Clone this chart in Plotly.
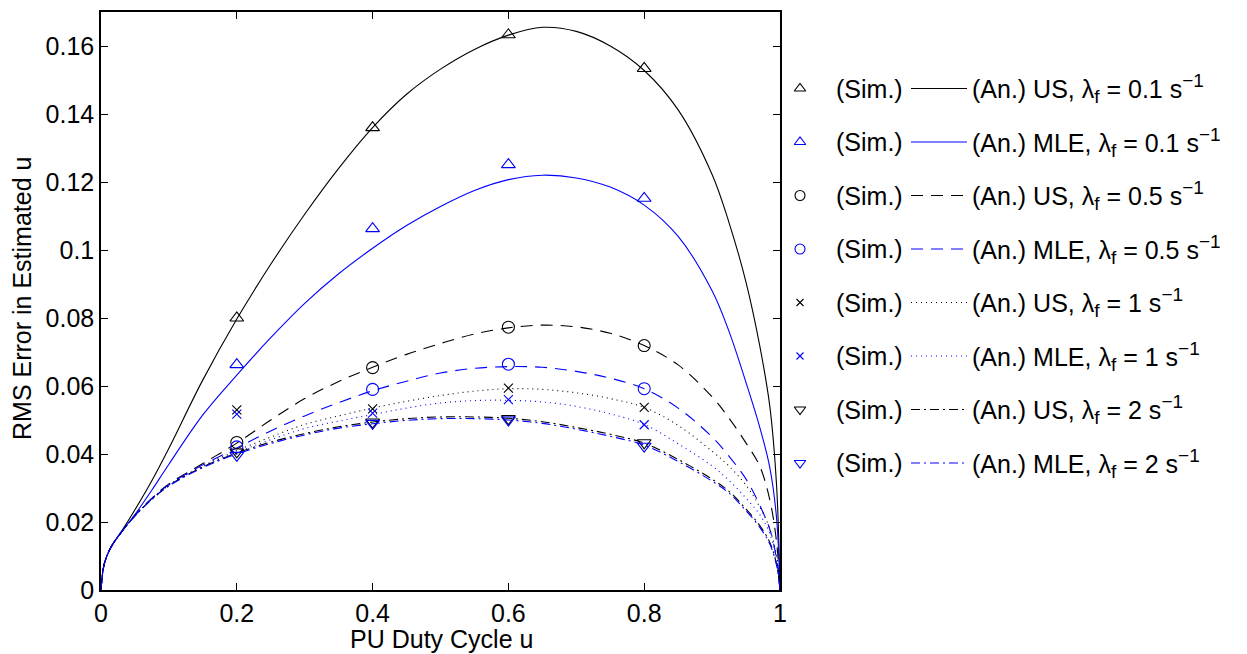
import plotly.graph_objects as go

# ---------------- data ----------------
u_an = [0, 0.005, 0.015, 0.03, 0.05, 0.075, 0.1, 0.15, 0.2, 0.25, 0.3, 0.35, 0.4, 0.45, 0.5,
        0.55, 0.6, 0.65, 0.7, 0.75, 0.8, 0.85, 0.9, 0.925, 0.95, 0.97, 0.985, 0.995, 1.0]

an_us_01 = [0, 0.0078, 0.0127, 0.0172, 0.0236, 0.0322, 0.0417, 0.0618, 0.0797, 0.0958, 0.1105,
            0.1240, 0.1360, 0.1458, 0.1532, 0.1590, 0.1632, 0.1655, 0.1643, 0.1600, 0.1528,
            0.1412, 0.1222, 0.1080, 0.0905, 0.0720, 0.0540, 0.0305, 0]
an_mle_01 = [0, 0.0078, 0.0127, 0.0170, 0.0222, 0.0294, 0.0370, 0.0515, 0.0632, 0.0742, 0.0843,
             0.0930, 0.1005, 0.1072, 0.1128, 0.1175, 0.1207, 0.1220, 0.1212, 0.1185, 0.1132,
             0.1040, 0.0880, 0.0760, 0.0610, 0.0480, 0.0360, 0.0210, 0]
an_us_05 = [0, 0.0078, 0.0127, 0.0170, 0.0220, 0.0270, 0.0312, 0.0372, 0.0432, 0.0500, 0.0563,
            0.0613, 0.0655, 0.0693, 0.0725, 0.0753, 0.0771, 0.0779, 0.0774, 0.0755, 0.0719,
            0.0662, 0.0568, 0.0505, 0.0432, 0.0365, 0.0265, 0.0140, 0]
an_mle_05 = [0, 0.0078, 0.0127, 0.0170, 0.0219, 0.0269, 0.0310, 0.0368, 0.0418, 0.0468, 0.0512,
             0.0551, 0.0586, 0.0614, 0.0638, 0.0652, 0.0657, 0.0655, 0.0643, 0.0623, 0.0592,
             0.0535, 0.0450, 0.0393, 0.0326, 0.0250, 0.0178, 0.0090, 0]
an_us_1 = [0, 0.0078, 0.0127, 0.0170, 0.0218, 0.0268, 0.0309, 0.0365, 0.0410, 0.0450, 0.0487,
           0.0512, 0.0535, 0.0555, 0.0572, 0.0585, 0.0592, 0.0590, 0.0580, 0.0563, 0.0537,
           0.0484, 0.0408, 0.0364, 0.0308, 0.0245, 0.0180, 0.0100, 0]
an_mle_1 = [0, 0.0078, 0.0127, 0.0170, 0.0218, 0.0268, 0.0308, 0.0363, 0.0405, 0.0442, 0.0475,
            0.0497, 0.0516, 0.0535, 0.0550, 0.0557, 0.0558, 0.0553, 0.0540, 0.0518, 0.0487,
            0.0430, 0.0365, 0.0322, 0.0270, 0.0222, 0.0166, 0.0090, 0]
an_us_2 = [0, 0.0078, 0.0127, 0.0170, 0.0218, 0.0267, 0.0307, 0.0362, 0.0403, 0.0435, 0.0460,
           0.0480, 0.0494, 0.0504, 0.0509, 0.0509, 0.0505, 0.0495, 0.0478, 0.0458, 0.0432,
           0.0384, 0.0326, 0.0290, 0.0238, 0.0190, 0.0140, 0.0075, 0]
an_mle_2 = [0, 0.0078, 0.0127, 0.0170, 0.0218, 0.0267, 0.0306, 0.0360, 0.0400, 0.0431, 0.0456,
            0.0476, 0.0489, 0.0499, 0.0504, 0.0504, 0.0500, 0.0490, 0.0473, 0.0452, 0.0426,
            0.0378, 0.0320, 0.0285, 0.0233, 0.0185, 0.0135, 0.0072, 0]

u_sim = [0.2, 0.4, 0.6, 0.8]
sim_us_01 = [0.0800, 0.1360, 0.1633, 0.1534]
sim_mle_01 = [0.0663, 0.1063, 0.1251, 0.1152]
sim_us_05 = [0.0434, 0.0654, 0.0773, 0.0719]
sim_mle_05 = [0.0421, 0.0590, 0.0664, 0.0592]
sim_us_1 = [0.0530, 0.0533, 0.0594, 0.0537]
sim_mle_1 = [0.0517, 0.0520, 0.0560, 0.0486]
sim_us_2 = [0.0406, 0.0494, 0.0504, 0.0433]
sim_mle_2 = [0.0396, 0.0490, 0.0500, 0.0423]

x_ticks = [0, 0.2, 0.4, 0.6, 0.8, 1]
x_ticktext = ["0", "0.2", "0.4", "0.6", "0.8", "1"]
y_ticks = [0, 0.02, 0.04, 0.06, 0.08, 0.1, 0.12, 0.14, 0.16]
y_ticktext = ["0", "0.02", "0.04", "0.06", "0.08", "0.1", "0.12", "0.14", "0.16"]

x_title = "PU Duty Cycle u"
y_title = "RMS Error in Estimated u"
sim_label = "(Sim.)"
SUB = '<sub><span style="font-size:19px">f</span></sub>'
SUP = '<sup><span style="font-size:19px">−1</span></sup>'
legend_labels = ["(An.) US, λ" + SUB + " = 0.1 s" + SUP,
                 "(An.) MLE, λ" + SUB + " = 0.1 s" + SUP,
                 "(An.) US, λ" + SUB + " = 0.5 s" + SUP,
                 "(An.) MLE, λ" + SUB + " = 0.5 s" + SUP,
                 "(An.) US, λ" + SUB + " = 1 s" + SUP,
                 "(An.) MLE, λ" + SUB + " = 1 s" + SUP,
                 "(An.) US, λ" + SUB + " = 2 s" + SUP,
                 "(An.) MLE, λ" + SUB + " = 2 s" + SUP]

# ---------------- styles ----------------
BLACK = "#000000"
BLUE = "#0000FF"
FONT = "Liberation Sans, Arial, Helvetica, sans-serif"
FS = 25

series = [
    (an_us_01, sim_us_01, BLACK, "solid", "triangle-up-open", 12),
    (an_mle_01, sim_mle_01, BLUE, "solid", "triangle-up-open", 12),
    (an_us_05, sim_us_05, BLACK, "12px,8px", "circle-open", 12),
    (an_mle_05, sim_mle_05, BLUE, "12px,8px", "circle-open", 12),
    (an_us_1, sim_us_1, BLACK, "1px,4px", "x-thin-open", 9),
    (an_mle_1, sim_mle_1, BLUE, "1px,4px", "x-thin-open", 9),
    (an_us_2, sim_us_2, BLACK, "9px,4px,2px,4px", "triangle-down-open", 12),
    (an_mle_2, sim_mle_2, BLUE, "9px,4px,2px,4px", "triangle-down-open", 12),
]

fig = go.Figure()

for an, sim, col, dash, sym, msz in series:
    fig.add_trace(go.Scatter(x=u_an, y=an, mode="lines",
                             line=dict(color=col, width=1.1, dash=dash, shape="spline", smoothing=1.0),
                             showlegend=False, hoverinfo="skip"))
    fig.add_trace(go.Scatter(x=u_sim, y=sim, mode="markers",
                             marker=dict(symbol=sym, size=msz, color=col,
                                         line=dict(color=col, width=1.1)),
                             showlegend=False))

# ---------------- custom legend (pixel-like coordinates on a hidden axis pair) ----------------
row_y0 = 88.5
row_dy = 53.5
for i, (an, sim, col, dash, sym, msz) in enumerate(series):
    ry = row_y0 + i * row_dy
    fig.add_trace(go.Scatter(x=[800], y=[ry], mode="markers", xaxis="x2", yaxis="y2",
                             marker=dict(symbol=sym, size=msz - 2, color=col,
                                         line=dict(color=col, width=1.1)),
                             showlegend=False, hoverinfo="skip"))
    fig.add_trace(go.Scatter(x=[911, 967], y=[ry, ry], mode="lines", xaxis="x2", yaxis="y2",
                             line=dict(color=col, width=1.1, dash=dash),
                             showlegend=False, hoverinfo="skip"))
    fig.add_annotation(x=834, y=ry, xref="x2", yref="y2", text=sim_label, showarrow=False,
                       xanchor="left", yanchor="middle", font=dict(family=FONT, size=FS, color="black"))
    fig.add_annotation(x=970, y=ry, xref="x2", yref="y2", text=legend_labels[i], showarrow=False,
                       xanchor="left", yanchor="middle", font=dict(family=FONT, size=FS, color="black"))

W, H = 1247, 654
L, R, T, B = 101, 780, 12, 590
plot_w = W - L
plot_h = B - T
xdom_end = (R - L) / plot_w

# axis titles as annotations (paper coords relative to plotting area)
fig.add_annotation(x=(441 - L) / plot_w, y=(B - 639) / plot_h, xref="paper", yref="paper",
                   text=x_title, showarrow=False, xanchor="center", yanchor="middle",
                   font=dict(family=FONT, size=FS, color="black"))
fig.add_annotation(x=(22 - L) / plot_w, y=(B - 299) / plot_h, xref="paper", yref="paper",
                   text=y_title, showarrow=False, xanchor="center", yanchor="middle",
                   textangle=-90, font=dict(family=FONT, size=FS, color="black"))

fig.update_layout(
    width=W, height=H,
    margin=dict(l=L, r=0, t=T, b=H - B, autoexpand=False),
    paper_bgcolor="white", plot_bgcolor="white",
    font=dict(family=FONT, size=FS, color="black"),
    xaxis=dict(domain=[0, xdom_end], range=[0, 1], tickvals=x_ticks, ticktext=x_ticktext,
               ticks="inside", ticklen=7, tickcolor="black", tickwidth=1,
               showline=True, linecolor="black", linewidth=1.5, mirror="ticks",
               showgrid=False, zeroline=False, automargin=False,
               tickfont=dict(size=FS)),
    yaxis=dict(domain=[0, 1], range=[0, 0.17], tickvals=y_ticks, ticktext=y_ticktext,
               ticks="inside", ticklen=7, tickcolor="black", tickwidth=1,
               showline=True, linecolor="black", linewidth=1.5, mirror="ticks",
               showgrid=False, zeroline=False, automargin=False,
               tickfont=dict(size=FS)),
    xaxis2=dict(domain=[xdom_end, 1], range=[R, W], visible=False, anchor="y2"),
    yaxis2=dict(domain=[0, 1], range=[B, T], visible=False, anchor="x2"),
)

fig.write_html("out.html", config={"displayModeBar": False},
               post_script="document.body.style.margin='0px';")
